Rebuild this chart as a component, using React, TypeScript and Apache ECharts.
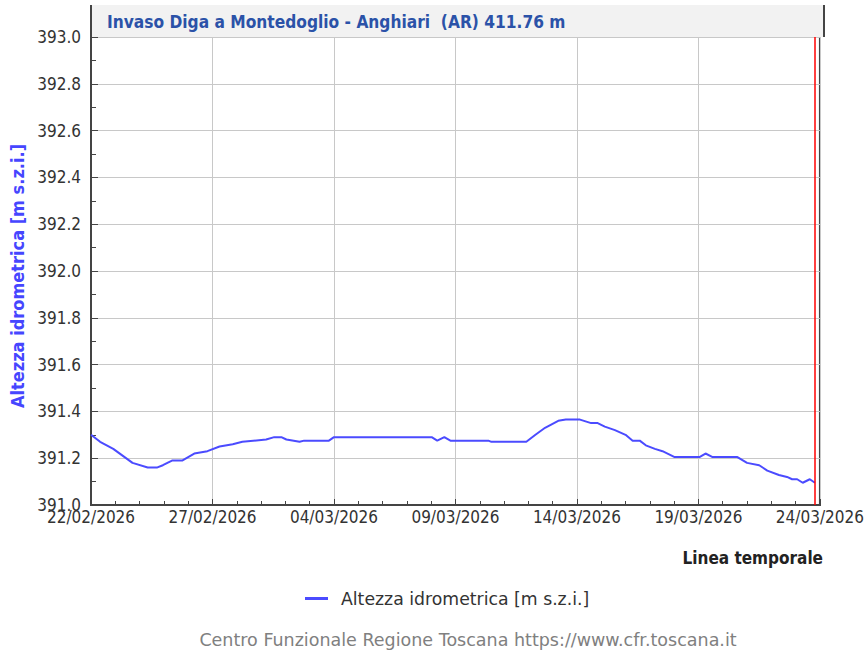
import React, { useEffect, useRef } from "react";
import * as echarts from "echarts";

const times = [
  "2026-02-22 00:00", "2026-02-22 09:00", "2026-02-22 22:00", "2026-02-23 17:00", "2026-02-24 08:00",
  "2026-02-24 17:00", "2026-02-24 23:00", "2026-02-25 08:00", "2026-02-25 18:00", "2026-02-26 06:00",
  "2026-02-26 19:00", "2026-02-27 07:00", "2026-02-27 20:00", "2026-02-28 05:30", "2026-03-01 05:00",
  "2026-03-01 13:00", "2026-03-01 20:00", "2026-03-02 01:00", "2026-03-02 14:00", "2026-03-02 18:30",
  "2026-03-03 19:00", "2026-03-04 00:00", "2026-03-08 00:30", "2026-03-08 06:00", "2026-03-08 13:00",
  "2026-03-08 19:00", "2026-03-10 08:30", "2026-03-10 11:30", "2026-03-11 22:00", "2026-03-12 07:00",
  "2026-03-12 16:30", "2026-03-13 05:30", "2026-03-13 13:00", "2026-03-14 03:00", "2026-03-14 14:00",
  "2026-03-14 20:30", "2026-03-15 03:30", "2026-03-15 13:30", "2026-03-16 00:00", "2026-03-16 07:00",
  "2026-03-16 14:00", "2026-03-16 20:00", "2026-03-17 05:00", "2026-03-17 12:30", "2026-03-18 00:30",
  "2026-03-19 01:00", "2026-03-19 07:00", "2026-03-19 14:00", "2026-03-20 14:30", "2026-03-21 00:00",
  "2026-03-21 12:00", "2026-03-21 20:00", "2026-03-22 07:30", "2026-03-22 15:30", "2026-03-22 20:30",
  "2026-03-23 01:30", "2026-03-23 07:00", "2026-03-23 14:00", "2026-03-23 19:00",
];

const levels = [
  391.30, 391.27, 391.24, 391.18, 391.16,
  391.16, 391.17, 391.19, 391.19, 391.22,
  391.23, 391.25, 391.26, 391.27, 391.28,
  391.29, 391.29, 391.28, 391.27, 391.275,
  391.275, 391.29, 391.29, 391.275, 391.29,
  391.275, 391.275, 391.27, 391.27, 391.30,
  391.33, 391.36, 391.365, 391.365, 391.35,
  391.35, 391.335, 391.32, 391.30, 391.275,
  391.275, 391.255, 391.24, 391.23, 391.205,
  391.205, 391.22, 391.205, 391.205, 391.18,
  391.17, 391.147, 391.128, 391.12, 391.11,
  391.11, 391.095, 391.11, 391.095,
];

const startTime = "2026-02-22 00:00";
const endTime = "2026-03-24 00:00";
const nowTime = "2026-03-23 19:00";
const yMin = 391.0;
const yMax = 393.0;
const yStep = 0.2;
const xStepDays = 5;

const titleText = "Invaso Diga a Montedoglio - Anghiari  (AR) 411.76 m";
const seriesName = "Altezza idrometrica [m s.z.i.]";
const xName = "Linea temporale";
const footer = "Centro Funzionale Regione Toscana https://www.cfr.toscana.it";

const FONT = "'DejaVu Sans Condensed', 'DejaVu Sans', sans-serif";
const FONT_WIDE = "'DejaVu Sans', sans-serif";
const DAY = 86400000;

function parseT(s: string): number {
  const [d, t] = s.split(" ");
  const [y, m, dd] = d.split("-").map(Number);
  const [hh, mm] = t.split(":").map(Number);
  return Date.UTC(y, m - 1, dd, hh, mm);
}
const base = parseT(startTime);
const toDays = (s: string) => (parseT(s) - base) / DAY;
const pad = (n: number) => (n < 10 ? "0" + n : "" + n);
function fmtDay(v: number): string {
  const d = new Date(base + Math.round(v * DAY));
  return pad(d.getUTCDate()) + "/" + pad(d.getUTCMonth() + 1) + "/" + d.getUTCFullYear();
}

export default function App() {
  const ref = useRef<HTMLDivElement>(null);
  useEffect(() => {
    document.body.style.margin = "0";
    if (!ref.current) return;
    const chart = echarts.init(ref.current, undefined, { renderer: "svg" });
    const data = times.map((t, i) => [toDays(t), levels[i]]);
    chart.setOption({
      animation: false,
      grid: {
        left: 91,
        right: 43,
        top: 37,
        bottom: 148,
        show: true,
        borderColor: "#444",
        borderWidth: 2,
        backgroundColor: "transparent",
      },
      graphic: [
        { type: "rect", shape: { x: 91, y: 5, width: 733, height: 32 }, style: { fill: "#f2f2f2" }, z: 0 },
        { type: "line", shape: { x1: 91, y1: 5, x2: 91, y2: 37 }, style: { stroke: "#444", lineWidth: 2 } },
        { type: "line", shape: { x1: 824, y1: 5, x2: 824, y2: 37 }, style: { stroke: "#444", lineWidth: 2 } },
        {
          type: "text",
          x: 107,
          y: 22,
          style: { text: titleText, fill: "#2b52a8", font: `bold 17.2px ${FONT}`, textVerticalAlign: "middle" },
        },
        {
          type: "text",
          x: 823,
          y: 558,
          style: {
            text: xName,
            fill: "#222",
            font: `bold 17px ${FONT}`,
            textAlign: "right",
            textVerticalAlign: "middle",
          },
        },
        {
          type: "text",
          x: 468,
          y: 640,
          style: {
            text: footer,
            fill: "#808080",
            font: `17.5px ${FONT_WIDE}`,
            textAlign: "center",
            textVerticalAlign: "middle",
          },
        },
      ],
      legend: {
        left: 305,
        top: 590,
        padding: 0,
        icon: "rect",
        itemWidth: 23,
        itemHeight: 3,
        itemGap: 10,
        data: [seriesName],
        textStyle: { fontFamily: FONT_WIDE, fontSize: 17.3, color: "#333", padding: [0, 0, 0, 8] },
      },
      xAxis: {
        type: "value",
        min: 0,
        max: toDays(endTime),
        interval: xStepDays,
        axisLine: { show: true, lineStyle: { color: "#444", width: 2 } },
        axisTick: { show: true, inside: true, length: 6, lineStyle: { color: "#444" } },
        minorTick: { show: true, splitNumber: 5, length: 4, lineStyle: { color: "#444" } },
        splitLine: { show: true, lineStyle: { color: "#c8c8c8", width: 1 } },
        axisLabel: {
          formatter: (v: number) => fmtDay(v),
          fontFamily: FONT,
          fontSize: 17,
          color: "#333",
          margin: 3,
          showMaxLabel: true,
          showMinLabel: true,
        },
      },
      yAxis: {
        type: "value",
        min: yMin,
        max: yMax,
        interval: yStep,
        name: seriesName,
        nameLocation: "middle",
        nameGap: 62,
        nameTextStyle: {
          color: "#4646ff",
          fontFamily: FONT,
          fontSize: 18,
          fontWeight: "bold",
          padding: [0, 10, 0, 0],
        },
        axisLine: { show: true, lineStyle: { color: "#444", width: 2 } },
        axisTick: { show: true, inside: true, length: 7, lineStyle: { color: "#444" } },
        minorTick: { show: true, splitNumber: 2, length: 5, lineStyle: { color: "#444" } },
        splitLine: { show: true, lineStyle: { color: "#c8c8c8", width: 1 } },
        axisLabel: {
          formatter: (v: number) => v.toFixed(1),
          fontFamily: FONT,
          fontSize: 17,
          color: "#333",
          margin: 10,
        },
      },
      series: [
        {
          name: seriesName,
          type: "line",
          data,
          showSymbol: false,
          symbol: "none",
          itemStyle: { color: "#4b4bff" },
          lineStyle: { color: "#4b4bff", width: 2 },
          markLine: {
            silent: true,
            symbol: ["none", "none"],
            label: { show: false },
            lineStyle: { color: "#ff0000", width: 1.5, type: "solid" },
            data: [{ xAxis: toDays(nowTime) }],
          },
        },
      ],
    });
    return () => chart.dispose();
  }, []);
  return <div ref={ref} style={{ width: 867, height: 653 }} />;
}
